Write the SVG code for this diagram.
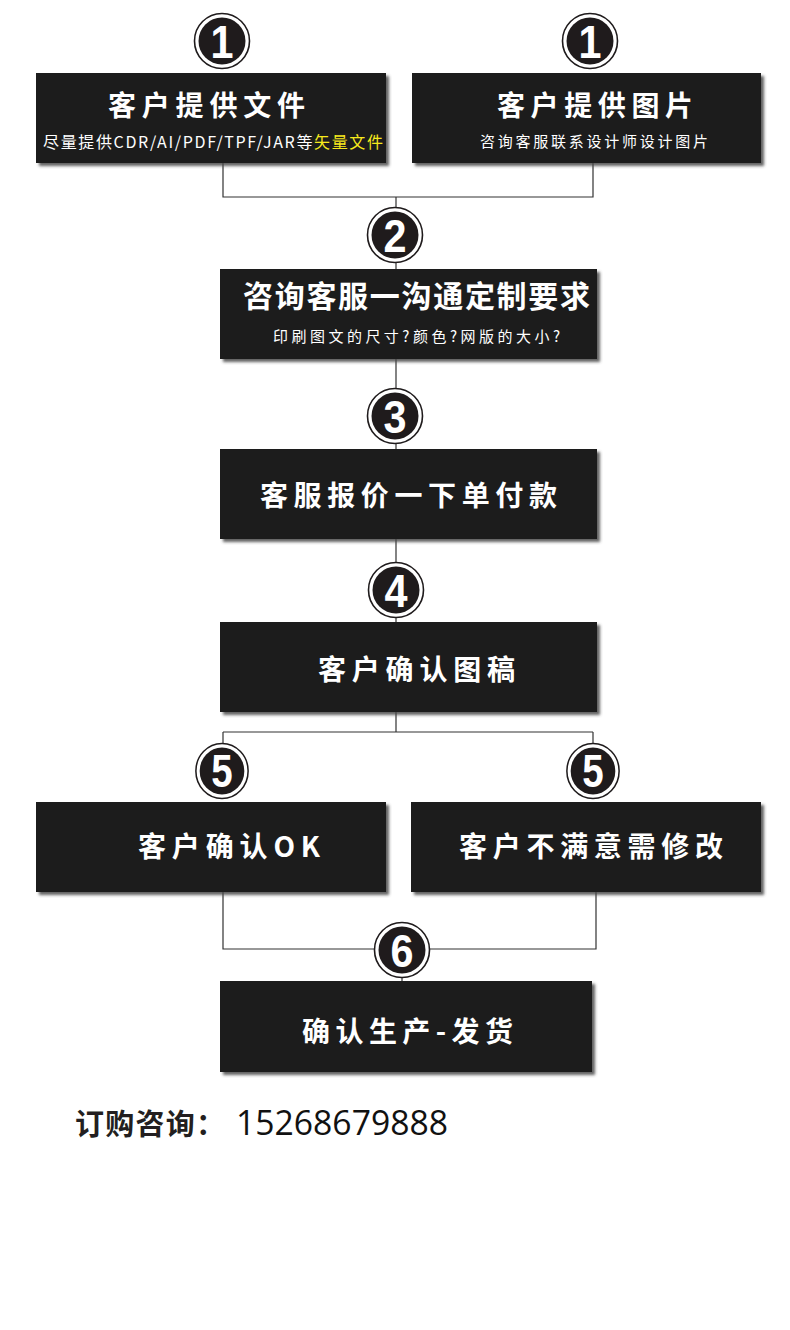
<svg xmlns="http://www.w3.org/2000/svg" width="790" height="1330" viewBox="0 0 790 1330">
<defs>
<filter id="sh" x="-5%" y="-10%" width="115%" height="130%">
<feDropShadow dx="3" dy="3" stdDeviation="1.6" flood-color="#444" flood-opacity="0.85"/>
</filter>
<g id="ring">
<circle r="27.5" fill="#fff" stroke="#1f1b1c" stroke-width="1.6"/>
<circle r="23.5" fill="#1f1b1c"/>
</g>
</defs>
<style>
.box{fill:#1f1b1c;filter:url(#sh)}
.t{font-family:"Noto Sans CJK SC","Noto Sans",sans-serif;font-weight:700;fill:#fff;font-size:28px}
.s{font-family:"Noto Sans CJK SC","Noto Sans",sans-serif;font-weight:400;fill:#fff;font-size:16px}
.n{font-family:"Liberation Sans",Arial,sans-serif;font-weight:700;fill:#fff;font-size:47px;text-anchor:middle}
.ln{stroke:#333;stroke-width:1.2;fill:none}
</style>
<rect width="790" height="1330" fill="#fff"/>
<g id="connectors">
<path class="ln" d="M223 163V197H593V163M396 197V269M396 359V449M396 539V622M396 712V732M223 732H593M223 732V746M593 732V746M223 892V949H596V892M402 949V981"/>
</g>
<g id="n1a">
<use href="#ring" x="222" y="41"/>
<text class="n" x="222" y="58" transform="translate(222 0) scale(0.88 1) translate(-222 0)">1</text>
<rect class="box" x="36" y="73" width="350" height="90"/>
<text class="t" x="108" y="116" textLength="197" lengthAdjust="spacing">客户提供文件</text>
<text class="s" x="43" y="148" textLength="340" lengthAdjust="spacing">尽量提供CDR/AI/PDF/TPF/JAR等<tspan fill="#f7ea1c">矢量文件</tspan></text>
</g>
<g id="n1b">
<use href="#ring" x="590" y="41"/>
<text class="n" x="590" y="58" transform="translate(590 0) scale(0.88 1) translate(-590 0)">1</text>
<rect class="box" x="412" y="73" width="349" height="90"/>
<text class="t" x="497" y="116" textLength="196" lengthAdjust="spacing">客户提供图片</text>
<text class="s" x="480" y="147" textLength="228" lengthAdjust="spacing" style="font-size:15px">咨询客服联系设计师设计图片</text>
</g>
<g id="n2">
<use href="#ring" x="395" y="235"/>
<text class="n" x="395" y="252" transform="translate(395 0) scale(0.88 1) translate(-395 0)">2</text>
<rect class="box" x="220" y="269" width="377" height="90"/>
<text class="t" x="243" y="307" textLength="347" lengthAdjust="spacing" style="font-size:30px">咨询客服一沟通定制要求</text>
<text class="s" x="273" y="342" textLength="287" lengthAdjust="spacing" style="font-size:15px">印刷图文的尺寸?颜色?网版的大小?</text>
</g>
<g id="n3">
<use href="#ring" x="395" y="416"/>
<text class="n" x="395" y="433" transform="translate(395 0) scale(0.88 1) translate(-395 0)">3</text>
<rect class="box" x="220" y="449" width="377" height="90"/>
<text class="t" x="260" y="506" textLength="297" lengthAdjust="spacing">客服报价一下单付款</text>
</g>
<g id="n4">
<use href="#ring" x="396" y="590"/>
<text class="n" x="396" y="607" transform="translate(396 0) scale(0.88 1) translate(-396 0)">4</text>
<rect class="box" x="220" y="622" width="377" height="90"/>
<text class="t" x="318" y="680" textLength="197" lengthAdjust="spacing">客户确认图稿</text>
</g>
<g id="n5a">
<use href="#ring" x="222" y="771" transform="translate(222 771) scale(0.95 1) translate(-222 -771)"/>
<text class="n" x="222" y="787" transform="translate(222 0) scale(0.82 1) translate(-222 0)">5</text>
<rect class="box" x="36" y="802" width="350" height="90"/>
<text class="t" x="138" y="857" textLength="182" lengthAdjust="spacing">客户确认OK</text>
</g>
<g id="n5b">
<use href="#ring" x="593" y="771" transform="translate(593 771) scale(0.95 1) translate(-593 -771)"/>
<text class="n" x="593" y="787" transform="translate(593 0) scale(0.82 1) translate(-593 0)">5</text>
<rect class="box" x="411" y="802" width="350" height="90"/>
<text class="t" x="459" y="857" textLength="264" lengthAdjust="spacing">客户不满意需修改</text>
</g>
<g id="n6">
<use href="#ring" x="402" y="950"/>
<text class="n" x="402" y="967" transform="translate(402 0) scale(0.88 1) translate(-402 0)">6</text>
<rect class="box" x="220" y="981" width="372" height="91"/>
<text class="t" x="302" y="1042" textLength="211" lengthAdjust="spacing">确认生产-发货</text>
</g>
<g id="contact">
<text x="75" y="1135" font-family="Noto Sans CJK SC,sans-serif" font-weight="700" font-size="29" fill="#231f20" textLength="150" lengthAdjust="spacing">订购咨询：</text>
<text x="236" y="1135" font-family="Open Sans,Noto Sans,sans-serif" font-size="34" fill="#111" textLength="212" lengthAdjust="spacingAndGlyphs">15268679888</text>
</g>
</svg>
